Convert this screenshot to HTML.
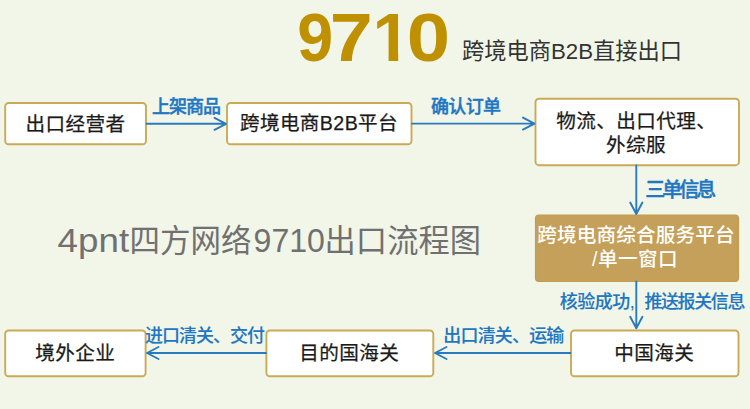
<!DOCTYPE html>
<html lang="zh-CN">
<head>
<meta charset="utf-8">
<title>9710 跨境电商B2B直接出口</title>
<style>
html,body{margin:0;padding:0;background:#f1f6e8;}
body{width:750px;height:409px;overflow:hidden;}
svg{display:block;}
text{font-family:"Liberation Sans","Noto Sans CJK SC",sans-serif;}
.bx{fill:#fff;stroke:#caaa55;stroke-width:1.9;}
.bt{font-size:19.6px;letter-spacing:0.4px;fill:#1a1a1a;text-anchor:middle;stroke:#1a1a1a;stroke-width:0.25px;}
.ar{stroke:#2a7abd;stroke-width:1.9;fill:none;stroke-linecap:round;stroke-linejoin:round;}
.lb{fill:#1f76c2;font-weight:500;stroke:#1f76c2;stroke-width:0.12px;}
.hv{stroke-width:0.42px;}
</style>
</head>
<body>
<svg width="750" height="409" viewBox="0 0 750 409">
<rect x="0" y="0" width="750" height="409" fill="#f1f6e8"/>

<!-- title -->
<defs><clipPath id="c1"><path d="M0 -60H25.7V2H16V-7.2H0Z"/></clipPath></defs>
<g font-size="69" font-weight="bold" fill="#bf9000">
<text transform="translate(297.26 61) scale(0.9365 1)">9</text>
<text transform="translate(329.7 61) scale(1.121 1)">7</text>
<text transform="translate(372.6 61)" clip-path="url(#c1)">1</text>
<text transform="translate(406.8 61) scale(1.13 1)">0</text>
</g>
<text x="462" y="59" font-size="22.5" fill="#333" textLength="220" lengthAdjust="spacingAndGlyphs">跨境电商B2B直接出口</text>

<!-- watermark -->
<text y="252" fill="#707070" font-size="31.5"><tspan x="57.6" font-size="32.5" textLength="71.5" lengthAdjust="spacingAndGlyphs">4pnt</tspan><tspan x="129.4" textLength="122" lengthAdjust="spacingAndGlyphs">四方网络</tspan><tspan x="253.6" font-size="32.5" textLength="71.3" lengthAdjust="spacingAndGlyphs">9710</tspan><tspan x="324.6" textLength="156.4" lengthAdjust="spacingAndGlyphs">出口流程图</tspan></text>

<!-- boxes -->
<rect class="bx" x="5.2" y="103" width="140.8" height="41.3" rx="3.5"/>
<text class="bt" x="75.5" y="130.5">出口经营者</text>

<rect class="bx" x="227" y="103" width="184.5" height="41.3" rx="3.5"/>
<text class="bt" x="319" y="130.2">跨境电商B2B平台</text>

<rect class="bx" x="535.5" y="98.7" width="203.5" height="66.5" rx="3.5"/>
<text class="bt" x="636.2" y="127.5">物流、出口代理、</text>
<text class="bt" x="636" y="152">外综服</text>

<rect x="535.5" y="215" width="203" height="66.5" rx="3.5" fill="#c4a05a" stroke="#c39c4c" stroke-width="1.2"/>
<text class="bt" x="636" y="241.8" style="fill:#fff;stroke:none;font-weight:500;letter-spacing:0.15px">跨境电商综合服务平台</text>
<text class="bt" x="635" y="266" style="fill:#fff;stroke:none;font-weight:500">/单一窗口</text>

<rect class="bx" x="571" y="330.5" width="167.5" height="45.8" rx="3.5"/>
<text class="bt" x="654.3" y="360">中国海关</text>

<rect class="bx" x="266.4" y="330.5" width="166.9" height="45.8" rx="3.5"/>
<text class="bt" x="349.3" y="360">目的国海关</text>

<rect class="bx" x="5.2" y="330.5" width="140.4" height="45.8" rx="3.5"/>
<text class="bt" x="75.2" y="360.2">境外企业</text>

<!-- arrows -->
<path class="ar" d="M146.5 123.8H225M214.5 117.8L226 123.8L214.5 129.8"/>
<path class="ar" d="M412 123.6H533.5M523 117.600L534.5 123.6L523 129.600"/>
<path class="ar" d="M636.3 165.500V213M630.2 202.5L636.3 214L642.4 202.5"/>
<path class="ar" d="M636.3 281.500V327.3M630.2 316.8L636.3 328.2L642.4 316.8"/>
<path class="ar" d="M570.500 353H436M446.5 347L435 353L446.5 359"/>
<path class="ar" d="M266 353H148M158.5 347L147 353L158.5 359"/>

<!-- labels -->
<text class="lb hv" font-size="18" x="152" y="112.8" textLength="69" lengthAdjust="spacing">上架商品</text>
<text class="lb hv" font-size="18" x="431" y="113" textLength="70" lengthAdjust="spacing">确认订单</text>
<text class="lb hv" font-size="20" x="645.2" y="197" textLength="71" lengthAdjust="spacing">三单信息</text>
<text class="lb" font-size="18" y="307.5"><tspan x="559.8" textLength="75" lengthAdjust="spacing">核验成功,</tspan><tspan x="644.4" textLength="101" lengthAdjust="spacing">推送报关信息</tspan></text>
<text class="lb" font-size="18" x="443.3" y="342" textLength="121" lengthAdjust="spacing">出口清关、运输</text>
<text class="lb" font-size="18" x="145" y="342" textLength="120" lengthAdjust="spacing">进口清关、交付</text>
</svg>
</body>
</html>
